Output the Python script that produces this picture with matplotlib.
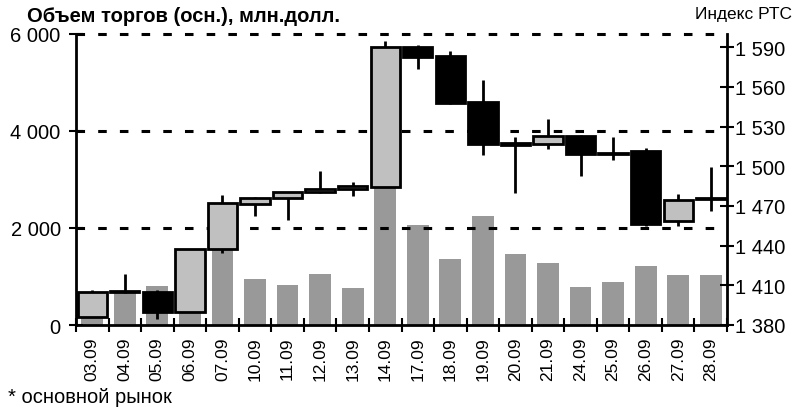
import matplotlib
matplotlib.use("Agg")
import matplotlib.pyplot as plt
from matplotlib.patches import Rectangle
import numpy as np

plt.rcParams['font.family'] = ['Liberation Sans', 'DejaVu Sans']

dates = ["03.09", "04.09", "05.09", "06.09", "07.09", "10.09", "11.09", "12.09", "13.09", "14.09",
         "17.09", "18.09", "19.09", "20.09", "21.09", "24.09", "25.09", "26.09", "27.09", "28.09"]
volume = [350, 660, 810, 400, 1550, 950, 830, 1050, 760, 2900,
          2060, 1360, 2250, 1460, 1280, 785, 890, 1215, 1030, 1030]
rts_open = [1386.3, 1405.6, 1405.3, 1390.1, 1437.2, 1471.6, 1476.2, 1480.2, 1482.5, 1484.6,
            1590.0, 1583.0, 1548.6, 1517.5, 1516.7, 1523.2, 1510.3, 1511.6, 1458.7, 1475.4]
rts_high = [1406.8, 1418.7, 1406.6, 1437.5, 1478.2, 1476.5, 1480.5, 1496.4, 1487.8, 1595.0,
            1591.6, 1587.0, 1565.0, 1521.8, 1535.9, 1523.5, 1522.0, 1513.6, 1478.7, 1499.7]
rts_low = [1386.0, 1404.0, 1384.6, 1390.0, 1434.4, 1462.5, 1459.7, 1479.5, 1477.7, 1484.0,
           1573.9, 1547.0, 1508.6, 1479.5, 1513.0, 1492.6, 1504.8, 1455.0, 1455.0, 1466.3]
rts_close = [1405.3, 1405.0, 1390.1, 1437.2, 1471.9, 1476.2, 1480.2, 1482.7, 1485.0, 1590.0,
             1582.5, 1547.6, 1516.9, 1516.0, 1522.7, 1509.1, 1509.3, 1456.2, 1474.7, 1475.9]

fig = plt.figure(figsize=(7.96, 4.10), dpi=100)
ax = fig.add_axes([76/796, 1-326/410, (727-76)/796, (326-35)/410])
ax2 = ax.twinx()

x = np.arange(len(dates))
ax.bar(x, volume, width=0.67, color='#999999', zorder=1)
ax.set_ylim(0, 6000)
ax.set_xlim(-0.5, len(dates)-0.5)
ax.set_yticks([0, 2000, 4000, 6000])
ax.set_yticklabels(["0", "2 000", "4 000", "6 000"])
for g in [2000, 4000, 6000]:
    ax.axhline(g, color='black', lw=2.2, ls=(0, (2.8, 4.3)), zorder=2, clip_on=False)

ax2.set_ylim(1380, 1600)
ax2.set_yticks(np.arange(1380, 1591, 30))
ax2.set_yticklabels([f"1 {v-1000:03d}" for v in range(1380, 1591, 30)])

w = 0.9
for i in range(len(dates)):
    o, h, l, c = rts_open[i], rts_high[i], rts_low[i], rts_close[i]
    ax2.plot([i, i], [l, h], color='black', lw=2, zorder=3, solid_capstyle='butt')
    fc = '#c0c0c0' if c >= o else 'black'
    bot = min(o, c)
    ht = max(abs(c - o), 0.6)
    ax2.add_patch(Rectangle((i - w/2, bot), w, ht, facecolor=fc, edgecolor='black', lw=2, zorder=4))

ax.set_xticks(np.arange(-0.5, len(dates), 1.0))
ax.set_xticklabels([])
ax.set_xticks(x, minor=True)
ax.set_xticklabels(dates, minor=True, rotation=90, fontsize=12.5)
ax.tick_params(axis='x', which='minor', length=0, pad=8)
ax.tick_params(axis='x', which='major', direction='inout', length=10, width=1.5)
ax.tick_params(axis='y', direction='inout', length=10, width=1.5, labelsize=14.5, pad=6)
ax2.tick_params(axis='y', direction='inout', length=10, width=1.5, labelsize=14.5, pad=1)

for a in (ax, ax2):
    a.spines['top'].set_visible(False)
    for s in ['left', 'right', 'bottom']:
        a.spines[s].set_linewidth(2)
ax2.spines['left'].set_visible(False)
ax2.spines['bottom'].set_visible(False)
ax.spines['right'].set_visible(False)
ax2.set_zorder(ax.get_zorder() + 1)
ax2.patch.set_visible(False)

fig.text(27/796, 1-17/410, "Объем торгов (осн.), млн.долл.", fontsize=14.5, fontweight='bold', va='center', ha='left')
fig.text(792/796, 1-15/410, "Индекс РТС", fontsize=12.5, va='center', ha='right')
fig.text(8/796, 1-398/410, "* основной рынок", fontsize=14.5, va='center', ha='left')

fig.savefig("out.png", dpi=100)
